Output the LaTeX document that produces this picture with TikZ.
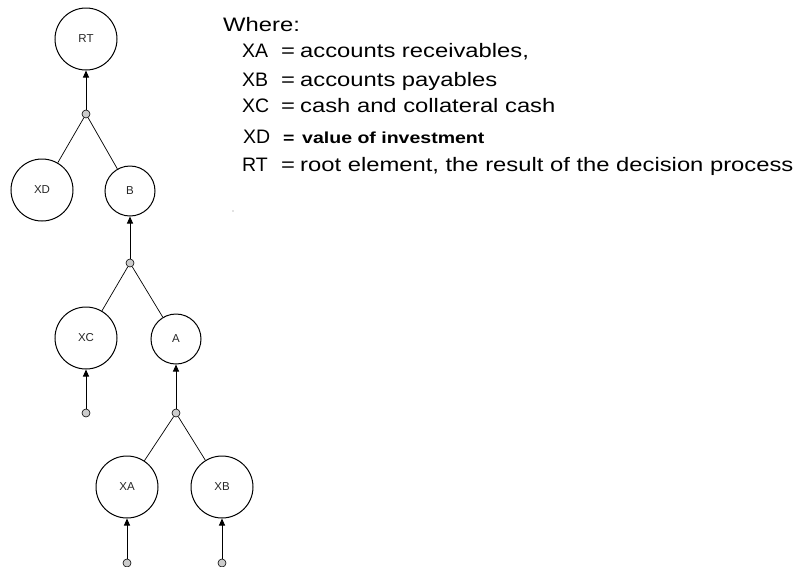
\documentclass[tikz,border=0pt]{standalone}
\usepackage{fontspec}
\setmainfont{Liberation Sans}
\newfontfamily\legendfont[FakeStretch=1.22]{Liberation Sans}
\usetikzlibrary{arrows.meta}

\begin{document}
\begin{tikzpicture}[x=1pt,y=-1pt,
  elem/.style={draw,circle,line width=1pt,inner sep=0pt,minimum size=62pt,
    font=\fontsize{11.5}{13}\selectfont,text=black!85},
  elemsm/.style={elem,minimum size=50pt},
  junc/.style={draw,circle,line width=0.6pt,fill=gray!40,inner sep=0pt,minimum size=8pt},
  feed/.style={-{Triangle[length=7pt,width=6pt]},line width=1pt},
  txt/.style={anchor=base west,inner sep=0pt,font=\legendfont\fontsize{19.5}{23}\selectfont},
  keytxt/.style={txt,font=\fontsize{19.5}{23}\selectfont}]
  \useasboundingbox (0,0) rectangle (796,566);
  % tree
  \node[elem] (RT) at (86,39) {RT};
  \node[junc] (j1) at (86,114) {};
  \node[elem] (XD) at (42,190) {XD};
  \node[elemsm] (B) at (130,191) {B};
  \node[junc] (j2) at (130,263) {};
  \node[elem] (XC) at (86,338) {XC};
  \node[elemsm] (A) at (176,339) {A};
  \node[junc] (j3) at (176,413) {};
  \node[junc] (dC) at (86,413) {};
  \node[elem] (XA) at (127,487) {XA};
  \node[elem] (XB) at (222,487) {XB};
  \node[junc] (dA) at (127,563) {};
  \node[junc] (dB) at (222,563) {};
  \foreach \a/\b in {j1/RT,j2/B,j3/A,dC/XC,dA/XA,dB/XB}
    \draw[feed] (\a) -- (\b);
  \foreach \a/\b in {j1/XD,j1/B,j2/XC,j2/A,j3/XA,j3/XB}
    \draw[line width=0.7pt] (\a) -- (\b);
  \fill[gray] (233,211) circle (0.7);
  % legend
  \node[txt] (where) at (223,31) {Where:};
  \foreach \k/\y/\d in {XA/57/{accounts receivables,},XB/86/{accounts payables},
      XC/112/{cash and collateral cash},RT/171/{root element, the result of the decision process}}{
    \node[keytxt] (k\k) at (242,\y) {\k};
    \node[txt] (e\k) at (281,\y) {=};
    \node[txt] (d\k) at (300,\y) {\d};
  }
  \node[keytxt] (kXD) at (243,143) {XD};
  \node[txt,font=\legendfont\bfseries\fontsize{16}{19}\selectfont] (eXD) at (283,143) {=};
  \node[txt,font=\legendfont\bfseries\fontsize{16}{19}\selectfont] (dXD) at (302,143) {value of investment};
\end{tikzpicture}
\end{document}
